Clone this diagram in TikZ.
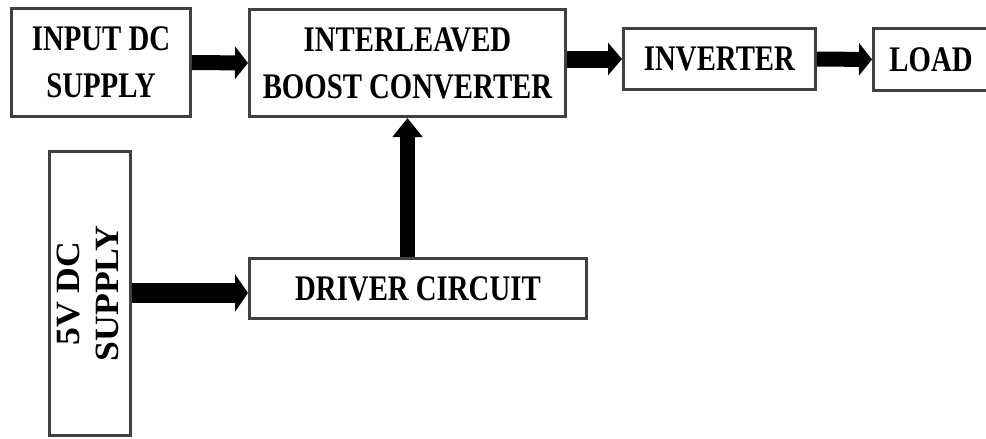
\documentclass[tikz,border=0pt]{standalone}
\usepackage{fontspec}
\usetikzlibrary{arrows.meta}
\newfontfamily\bxfont[FakeStretch=0.8]{Liberation Serif}
\newfontfamily\bxwfont[FakeStretch=1.05]{Liberation Serif}
\definecolor{boxline}{HTML}{404040}
\tikzset{
  blk/.style={draw=boxline, line width=3pt, fill=white, inner sep=0pt, align=center,
    font=\bxfont\bfseries\fontsize{36}{47}\selectfont},
  lbl/.style={inner sep=0pt, align=center, font=\bxfont\bfseries\fontsize{36}{47}\selectfont},
  conn/.style={draw=black, line width=#1},
  conn/.default=15pt
}
\begin{document}
\begin{tikzpicture}[x=1pt,y=-1pt]
\clip (0,0) rectangle (986,439);
\fill[white] (0,0) rectangle (986,439);
\node[blk, minimum width=179pt, minimum height=108pt] (inp) at (101,62.5) {INPUT DC\\SUPPLY};
\node[blk, minimum width=316pt, minimum height=107pt] (ibc) at (407.5,63) {INTERLEAVED\\BOOST CONVERTER};
\node[blk, minimum width=192pt, minimum height=61pt] (inv) at (719.5,59) {INVERTER};
\node[blk, minimum width=187pt, minimum height=62pt] (load) at (967,59.5) {};
\node[lbl] (loadt) at (931,59.5) {LOAD};
\node[blk, minimum width=81pt, minimum height=284pt] (v5) at (90,293.5) {};
\node[rotate=90, align=center, inner sep=0pt, font=\bxwfont\bfseries\fontsize{34}{39}\selectfont] (v5t) at ([xshift=-2pt]v5.center) {5V DC\\SUPPLY};
\node[blk, minimum width=337pt, minimum height=60pt] (drv) at (418,288.5) {DRIVER CIRCUIT};

\draw[conn=15pt, -{Triangle[length=13pt,width=32pt]}] (inp.east) -- (ibc.west);
\draw[conn=17pt, -{Triangle[length=14pt,width=32pt]}] (ibc.east |- inv.west) -- (inv.west);
\draw[conn=15pt, -{Triangle[length=13pt,width=32pt]}] (inv.east) -- (load.west);
\draw[conn=20pt, -{Triangle[length=13pt,width=37pt]}] ([yshift=-4.5pt]drv.west -| v5.east) -- ([yshift=-4.5pt]drv.west);
\draw[conn=15pt, -{Triangle[length=19pt,width=29pt]}] (drv.north -| ibc.south) -- (ibc.south);
\end{tikzpicture}
\end{document}
